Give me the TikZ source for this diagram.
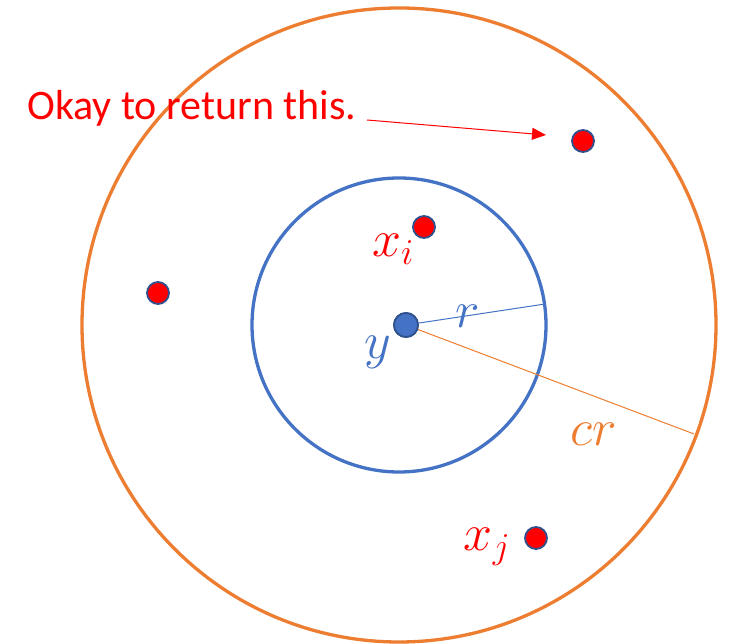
\RequirePackage{fix-cm}
\documentclass[tikz,border=0pt]{standalone}
\usepackage{fontspec}
\setmainfont{Carlito}
\usetikzlibrary{arrows.meta}
\definecolor{orng}{HTML}{ED7D31}
\definecolor{blu}{HTML}{4472C4}
\definecolor{dkblu}{HTML}{2F528F}
\definecolor{rd}{HTML}{FF0000}
\tikzset{
  reddot/.style={circle,fill=rd,draw=dkblu,line width=1.8pt,minimum size=22pt,inner sep=0pt},
  bludot/.style={circle,fill=blu,draw=dkblu,line width=1.8pt,minimum size=24pt,inner sep=0pt},
  lbl/.style={inner sep=0pt,font=\fontsize{52}{56}\selectfont}
}
\begin{document}
\begin{tikzpicture}[x=1pt,y=1pt]
\useasboundingbox (0,0) rectangle (735,644);
\coordinate (c) at (399,319);
\draw[orng,line width=3.3pt] (c) circle[radius=317];
\draw[blu,line width=3.3pt] (c) circle[radius=147];
\coordinate (rend) at (545,340);
\coordinate (crend) at (694,210);
\node[bludot] (y) at (406,319) {};
\draw[blu,line width=1pt] (y) -- (rend);
\draw[orng,line width=1pt] (y) -- (crend);
\node[bludot] at (406,319) {};
\node[reddot] (p1) at (583,503) {};
\node[reddot] (xi) at (424,417) {};
\node[reddot] (p3) at (158,351) {};
\node[reddot] (xj) at (536,106) {};
\node[lbl,text=blu] (rl) at (468,328) {$r$};
\node[lbl,text=blu] (yl) at (378,292) {$y$};
\node[lbl,text=rd] (xil) at (393,395) {$x_i$};
\node[lbl,text=rd] (xjl) at (487,97) {$x_j$};
\node[lbl,text=orng] (crl) at (594,210) {$cr$};
\node[anchor=base west,inner sep=0pt,text=rd,font=\fontsize{42}{46}\selectfont] (ok) at (27,524) {Okay to return this.};
\coordinate (astart) at (367,524);
\coordinate (aend) at (546,509);
\draw[rd,line width=1pt,-{Triangle[length=14pt,width=12pt]}] (astart) -- (aend);
\end{tikzpicture}
\end{document}
